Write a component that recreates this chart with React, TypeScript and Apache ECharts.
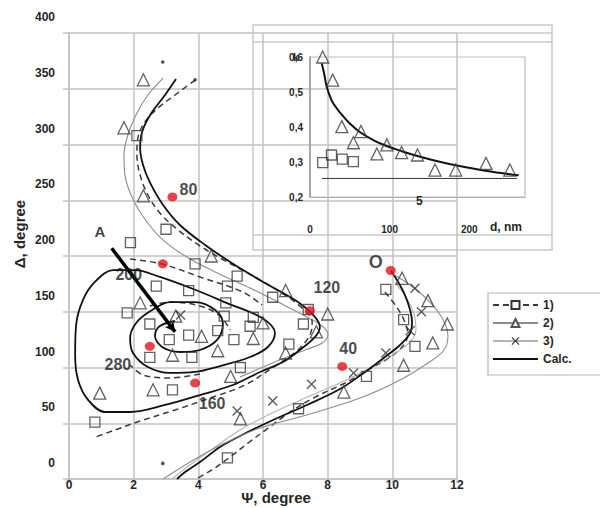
import React, { useEffect, useRef } from 'react';
import * as echarts from 'echarts';

// ---- Main plot: Ψ (degree), Δ (degree) ----
const squares1: number[][] = [
  [2.1, 308], [3.0, 224], [1.9, 212], [3.9, 193], [5.2, 182], [2.7, 173], [3.7, 169], [4.9, 173],
  [6.3, 163], [1.8, 149], [2.5, 139], [4.8, 146], [5.7, 145], [5.6, 137], [4.85, 158], [3.1, 125],
  [3.7, 129], [4.6, 133], [5.1, 125], [2.5, 109], [3.8, 109], [6.8, 121], [5.3, 100], [3.2, 80],
  [0.8, 51], [4.9, 19], [7.4, 152], [7.25, 139], [9.8, 170], [10.35, 143], [10.7, 119], [9.2, 92], [7.1, 63],
];

const triangles2: number[][] = [
  [2.3, 358], [1.7, 315], [2.3, 254], [4.4, 200], [2.2, 158], [3.3, 146], [4.1, 128], [6.7, 169],
  [6.0, 140], [5.7, 126], [5.0, 92], [4.6, 115], [3.2, 111], [2.6, 80], [0.95, 77], [6.7, 113],
  [5.3, 54], [8.0, 148], [10.3, 180], [11.1, 160], [11.7, 139], [11.25, 122], [10.35, 102], [7.65, 132], [8.5, 78],
];

const crosses3: number[][] = [
  [10.7, 171], [10.9, 150], [10.55, 133], [9.8, 113], [8.8, 95], [7.5, 85], [6.3, 70], [5.2, 61], [3.45, 147],
];

// calculated trajectory: from the bare substrate point down to Δ = 0
const calcBranchA: number[][] = [
  [9.96, 186.5], [10.18, 176.7], [10.39, 165], [10.55, 151.6], [10.61, 140.8], [10.55, 130.9],
  [10.24, 120.2], [9.77, 109.4], [9.16, 96], [8.38, 80.7], [7.36, 66.4], [6.31, 52.9], [5.29, 38.6],
  [4.67, 28.7], [4.05, 15.2], [3.59, 6.3], [3.34, 0],
];

// calculated trajectory: from Δ = 360 spiralling inwards
const calcBranchB: number[][] = [
  [3.31, 358.7], [2.97, 344.4], [2.51, 326.5], [2.26, 311.2], [2.2, 296.9], [2.29, 281.6], [2.51, 265.5],
  [2.91, 245.7], [3.43, 227.8], [4.21, 209.9], [5.13, 191.9], [6.06, 175.8], [6.99, 160.5], [7.55, 147.1],
  [7.76, 136.3], [7.61, 127.4], [7.14, 115.7], [6.62, 104.9], [5.91, 96], [5.07, 84.3], [4.05, 75.3],
  [2.97, 66.4], [1.89, 60.1], [1.11, 60.1], [0.59, 70.9], [0.28, 88.8], [0.19, 111.2], [0.22, 138.1],
  [0.43, 160.5], [0.8, 176.7], [1.36, 187.4], [2.04, 187.4], [2.81, 181.2], [3.84, 170.4], [4.89, 157.8],
  [5.97, 144.4], [6.37, 130.9], [6.15, 118.4], [5.6, 109.4], [4.67, 101.3], [3.9, 96], [3.12, 95.1],
  [2.44, 100.4], [1.98, 113], [1.89, 126.5], [2.1, 140.8], [2.57, 151.6], [3.12, 158.7], [3.9, 158.7],
  [4.52, 151.6], [4.76, 139], [4.58, 124.7], [4.05, 115.7], [3.43, 113.9], [2.88, 118.4], [2.66, 128.3],
  [2.81, 137.2], [3.28, 141.7],
];

// series 1) fitted curves (dashed)
const dashBranchA: number[][] = [
  [9.77, 167.7], [10.11, 155.2], [10.36, 142.6], [10.48, 130], [10.33, 119.3], [9.93, 109.4], [9.31, 98.7],
  [8.54, 86.1], [7.61, 73.5], [6.84, 60.1], [6.12, 44.8], [5.54, 32.3], [4.98, 19.7], [4.42, 8.1], [3.93, 0],
];
const dashBranchB: number[][] = [
  [3.9, 357.8], [3.28, 344.4], [2.75, 332.7], [2.35, 320.2], [2.13, 305.8], [2.1, 290.6], [2.2, 272.6],
  [2.44, 254.7], [2.81, 238.6], [3.34, 224.2], [3.96, 210.8], [4.73, 197.3], [5.75, 181.2], [6.68, 165],
  [7.24, 152.5], [7.52, 140.8], [7.45, 129.1], [7.08, 115.7], [6.37, 101.3], [5.44, 84.3], [4.36, 72.6],
  [3.28, 61.9], [2.2, 52], [1.42, 43.9], [0.74, 36.8],
];
const dashArc200: number[][] = [[1.89, 197.3], [2.88, 192.8], [4.05, 181.2], [5.38, 167.7], [5.97, 156]];
const dashInnerTop: number[][] = [[2.5, 155.2], [3.12, 158.7], [4.05, 155.2], [4.67, 146.2], [4.98, 133.6]];
const dashInnerBottom: number[][] = [[4.05, 94.2], [3.12, 90.6], [2.29, 93.3], [1.89, 102.2]];

// series 2) fitted curves
const grayBranchUpper: number[][] = [
  [2.91, 359.6], [2.44, 344.4], [2.07, 326.5], [1.82, 308.5], [1.7, 290.6], [1.73, 272.6], [1.92, 254.7],
  [2.26, 236.8], [2.81, 217], [3.59, 200], [4.52, 185.7], [5.6, 171.3], [6.53, 157.8], [7.3, 146.2],
  [7.83, 137.2], [8.01, 129.1], [7.83, 122], [7.3, 115.7], [6.37, 104.9], [5.29, 91.5],
];
const grayLoopRight: number[][] = [
  [10.02, 183.9], [10.55, 174], [11.1, 160.5], [11.54, 144.4], [11.72, 128.3], [11.6, 115.7], [11.1, 104],
  [10.24, 88.8], [9.0, 72.6], [7.45, 58.3], [5.91, 45.7], [4.82, 32.3], [3.9, 17.9], [2.91, 0],
];

// series 3) fitted curve
const lightBranch: number[][] = [
  [10.08, 175.8], [10.42, 163.2], [10.67, 148], [10.73, 133.6], [10.55, 122.9], [10.05, 112.1], [9.31, 99.6],
  [8.38, 86.1], [7.3, 72.6], [6.22, 58.3], [5.29, 43.9], [4.52, 28.7], [3.74, 12.6], [3.19, 0],
];

// film thickness marks (nm) on the trajectory
const thicknessPoints: number[][] = [[3.2, 253], [2.9, 193], [2.5, 119], [3.9, 86], [7.45, 151], [8.45, 101], [9.95, 187]];
const thicknessLabels: string[] = ['80', '200', '280', '160', '120', '40', 'O'];
const thicknessLabelOffsets: number[][] = [[16, -7], [-34, 11], [-32, 18], [17, 20], [17, -23], [6, -18], [-15, -8]];

const endDots: number[][] = [[2.9, 374], [2.9, 14], [3.9, 358]];
const arrowA: number[][] = [[1.32, 207], [3.28, 132]];
const arrowLabel: number[] = [0.96, 222];

// ---- Inset: k versus d (nm) ----
const insetTriangles: number[][] = [
  [16, 0.6], [28.5, 0.534], [40, 0.401], [54.5, 0.355], [64, 0.387], [84, 0.323], [96.5, 0.349],
  [115, 0.327], [135, 0.32], [157, 0.277], [183, 0.277], [221, 0.296], [251, 0.277],
];
const insetSquares: number[][] = [[16, 0.298], [27, 0.32], [40.5, 0.308], [54.5, 0.301]];
const insetFit: number[][] = [
  [14.7, 0.582], [18, 0.55], [21, 0.515], [27, 0.477], [33, 0.455], [40, 0.435], [50, 0.41], [63, 0.385],
  [80, 0.362], [97, 0.345], [115, 0.331], [135, 0.317], [160, 0.302], [186, 0.289], [220, 0.275], [262, 0.262],
];
const insetBase: number[][] = [[15, 0.253], [260, 0.253]];

const FONT = '"Liberation Sans", Arial, Helvetica, sans-serif';
const INK = '#262626';
const GRID = '#c2c2c2';
const CROSS = 'path://M0,1L1,0L5,4L9,0L10,1L6,5L10,9L9,10L5,6L1,10L0,9L4,5Z';
const CLEAR = 'rgba(0,0,0,0)';

const styles = {
  calc: { color: '#111111', width: 1.8, type: 'solid' as const },
  exp1: { color: '#3a3a3a', width: 1.5, type: [6, 4] as number[] },
  exp2: { color: '#8c8c8c', width: 1.1, type: 'solid' as const },
  exp3: { color: '#b4b4b4', width: 1.1, type: 'solid' as const },
};

function curve(name: string, data: number[][], ls: any, symbol: string, symbolColor: string) {
  return {
    type: 'line',
    name,
    data,
    xAxisIndex: 0,
    yAxisIndex: 0,
    showSymbol: false,
    symbol,
    symbolSize: 9,
    smooth: 0.35,
    lineStyle: ls,
    itemStyle: { color: symbolColor },
    silent: true,
    z: 3,
  };
}

function markers(data: number[][], symbol: string, size: number, filled: boolean) {
  return {
    type: 'scatter',
    data,
    xAxisIndex: 0,
    yAxisIndex: 0,
    symbol,
    symbolSize: size,
    silent: true,
    itemStyle: filled
      ? { color: '#333333' }
      : { color: CLEAR, borderColor: '#3a3a3a', borderWidth: 1.3 },
    z: 5,
  };
}

export default function App() {
  const ref = useRef<HTMLDivElement>(null);

  useEffect(() => {
    document.body.style.margin = '0';
    if (!ref.current) return;
    const chart = echarts.init(ref.current, null, { renderer: 'svg' });

    const option: any = {
      animation: false,
      backgroundColor: '#ffffff',
      textStyle: { fontFamily: FONT },
      grid: [
        { left: 69, top: 33, width: 388, height: 446, outerBoundsMode: 'none' },
        {
          left: 310, top: 57, width: 215, height: 140, show: true,
          borderColor: '#bdbdbd', borderWidth: 1.2, backgroundColor: 'transparent', outerBoundsMode: 'none',
        },
        // carries the Δ tick labels, which sit a little above their grid lines
        { left: 69, top: 17, width: 388, height: 446, outerBoundsMode: 'none' },
      ],
      xAxis: [
        {
          gridIndex: 0, type: 'value', min: 0, max: 12, interval: 2,
          axisLine: { show: true, onZero: false, lineStyle: { color: GRID, width: 1.5 } },
          axisTick: { show: true, length: 4, lineStyle: { color: GRID, width: 1.5 } },
          splitLine: { show: true, lineStyle: { color: GRID, width: 1.5 } },
          axisLabel: { margin: 0, fontSize: 12, fontWeight: 'bold', color: INK, fontFamily: FONT },
          name: 'Ψ, degree', nameLocation: 'middle', nameGap: 11, nameMoveOverlap: false,
          nameTextStyle: { fontSize: 15, fontWeight: 'bold', color: INK, fontFamily: FONT, padding: [0, 0, 0, 26] },
        },
        {
          gridIndex: 1, type: 'value', min: 0, max: 270, interval: 100,
          axisLine: { show: true, onZero: false, lineStyle: { color: '#b0b0b0', width: 1.2 } },
          axisTick: { show: false },
          splitLine: { show: false },
          axisLabel: { margin: 27, fontSize: 10, fontWeight: 'bold', color: INK, fontFamily: FONT, showMaxLabel: false },
        },
        { gridIndex: 2, type: 'value', min: 0, max: 12, show: false },
      ],
      yAxis: [
        {
          gridIndex: 0, type: 'value', min: 0, max: 400, interval: 50,
          axisLine: { show: true, onZero: false, lineStyle: { color: GRID, width: 1.5 } },
          axisTick: { show: true, length: 6, lineStyle: { color: GRID, width: 1.5 } },
          splitLine: { show: true, lineStyle: { color: GRID, width: 1.5 } },
          axisLabel: { show: false },
          name: 'Δ, degree', nameLocation: 'middle', nameGap: 42, nameRotate: 90, nameMoveOverlap: false,
          nameTextStyle: { fontSize: 15, fontWeight: 'bold', color: INK, fontFamily: FONT, padding: [0, 0, 0, 44] },
        },
        {
          gridIndex: 1, type: 'value', min: 0.2, max: 0.6, interval: 0.1,
          axisLine: { show: true, onZero: false, lineStyle: { color: '#9a9a9a', width: 1.6 } },
          axisTick: { show: false },
          splitLine: { show: false },
          axisLabel: {
            margin: 7, fontSize: 10, fontWeight: 'bold', color: INK, fontFamily: FONT,
            formatter: (v: number) => v.toFixed(1).replace('.', ','),
          },
        },
        {
          gridIndex: 2, type: 'value', min: 0, max: 400, interval: 50,
          axisLine: { show: false }, axisTick: { show: false }, splitLine: { show: false },
          axisLabel: { margin: 14, fontSize: 12, fontWeight: 'bold', color: INK, fontFamily: FONT },
        },
      ],
      legend: {
        orient: 'vertical', left: 488, top: 293,
        itemWidth: 45, itemHeight: 10, itemGap: 6,
        padding: [6, 10, 5, 4],
        selectedMode: false,
        textStyle: { fontSize: 12, fontWeight: 'bold', color: INK, fontFamily: FONT },
        data: ['1)', '2)', '3)', 'Calc.'],
      },
      graphic: [
        { type: 'rect', z: 0, silent: true, shape: { x: 253, y: 25, width: 299, height: 225 }, style: { fill: 'none', stroke: '#c9c9c9', lineWidth: 1.5 } },
        { type: 'line', z: 0, silent: true, shape: { x1: 457, y1: 33, x2: 552, y2: 33 }, style: { stroke: '#c9c9c9', lineWidth: 1.5 } },
        { type: 'line', z: 0, silent: true, shape: { x1: 253, y1: 42, x2: 552, y2: 42 }, style: { stroke: '#c9c9c9', lineWidth: 1.5 } },
        { type: 'line', z: 0, silent: true, shape: { x1: 253, y1: 235, x2: 552, y2: 235 }, style: { stroke: '#c9c9c9', lineWidth: 1.5 } },
        // legend frame, running off the right edge
        { type: 'rect', z: 0, silent: true, shape: { x: 488, y: 293, width: 130, height: 82 }, style: { fill: '#ffffff', stroke: '#b5b5b5', lineWidth: 1.2 } },
        { type: 'text', z: 10, silent: true, x: 293, y: 51, style: { text: 'k', font: `bold 11px ${FONT}`, fill: INK } },
        { type: 'text', z: 10, silent: true, x: 416, y: 195, style: { text: '5', font: `bold 12px ${FONT}`, fill: INK } },
        { type: 'text', z: 10, silent: true, x: 490, y: 221, style: { text: 'd, nm', font: `bold 12px ${FONT}`, fill: INK } },
      ],
      series: [
        curve('1)', dashBranchA, styles.exp1, 'emptyRect', '#333333'),
        curve('2)', grayBranchUpper, styles.exp2, 'emptyTriangle', '#555555'),
        curve('3)', lightBranch, styles.exp3, CROSS, '#333333'),
        curve('Calc.', calcBranchA, styles.calc, 'circle', CLEAR),
        curve('1)', dashBranchB, styles.exp1, 'emptyRect', '#333333'),
        curve('1)', dashArc200, styles.exp1, 'emptyRect', '#333333'),
        curve('1)', dashInnerTop, styles.exp1, 'emptyRect', '#333333'),
        curve('1)', dashInnerBottom, styles.exp1, 'emptyRect', '#333333'),
        curve('2)', grayLoopRight, styles.exp2, 'emptyTriangle', '#555555'),
        curve('Calc.', calcBranchB, styles.calc, 'circle', CLEAR),
        markers(squares1, 'rect', 10, false),
        markers(triangles2, 'triangle', 12, false),
        markers(crosses3, CROSS, 10, true),
        {
          type: 'scatter', xAxisIndex: 0, yAxisIndex: 0, silent: true, z: 6,
          data: endDots, symbol: 'circle', symbolSize: 3.5, itemStyle: { color: '#222222' },
        },
        {
          type: 'line', xAxisIndex: 0, yAxisIndex: 0, data: [], silent: true, z: 6,
          markLine: {
            silent: true, animation: false,
            symbol: ['none', 'arrow'], symbolSize: [8, 10],
            lineStyle: { color: '#000000', width: 3.5, type: 'solid' },
            label: { show: false },
            data: [[{ coord: arrowA[0] }, { coord: arrowA[1] }]],
          },
        },
        {
          type: 'scatter', xAxisIndex: 0, yAxisIndex: 0, silent: true, z: 7,
          data: [arrowLabel], symbolSize: 1, itemStyle: { color: CLEAR },
          label: { show: true, position: 'inside', formatter: 'A', fontSize: 15, fontWeight: 'bold', color: '#111111', fontFamily: FONT },
        },
        {
          type: 'scatter', xAxisIndex: 0, yAxisIndex: 0, silent: true, z: 7,
          symbol: 'circle', symbolSize: [10, 9], itemStyle: { color: '#e3141b' },
          data: thicknessPoints.map((p, i) => ({
            value: p,
            label: { formatter: thicknessLabels[i], offset: thicknessLabelOffsets[i], fontSize: thicknessLabels[i] === 'O' ? 18 : 16 },
          })),
          label: { show: true, position: 'inside', fontWeight: 'bold', color: '#1a1a1a', fontFamily: FONT },
        },
        // inset
        {
          type: 'line', xAxisIndex: 1, yAxisIndex: 1, data: insetBase, silent: true, showSymbol: false,
          lineStyle: { color: '#333333', width: 1 }, z: 3,
        },
        {
          type: 'line', xAxisIndex: 1, yAxisIndex: 1, data: insetFit, silent: true, showSymbol: false, smooth: 0.4,
          lineStyle: { color: '#111111', width: 2 }, z: 3,
        },
        {
          type: 'scatter', xAxisIndex: 1, yAxisIndex: 1, data: insetTriangles, silent: true, symbol: 'triangle', symbolSize: 12,
          itemStyle: { color: CLEAR, borderColor: '#3a3a3a', borderWidth: 1.3 }, z: 5,
        },
        {
          type: 'scatter', xAxisIndex: 1, yAxisIndex: 1, data: insetSquares, silent: true, symbol: 'rect', symbolSize: 10,
          itemStyle: { color: CLEAR, borderColor: '#3a3a3a', borderWidth: 1.3 }, z: 5,
        },
      ],
    };

    chart.setOption(option);
    return () => chart.dispose();
  }, []);

  return <div ref={ref} style={{ width: 600, height: 508, overflow: 'hidden' }} />;
}
